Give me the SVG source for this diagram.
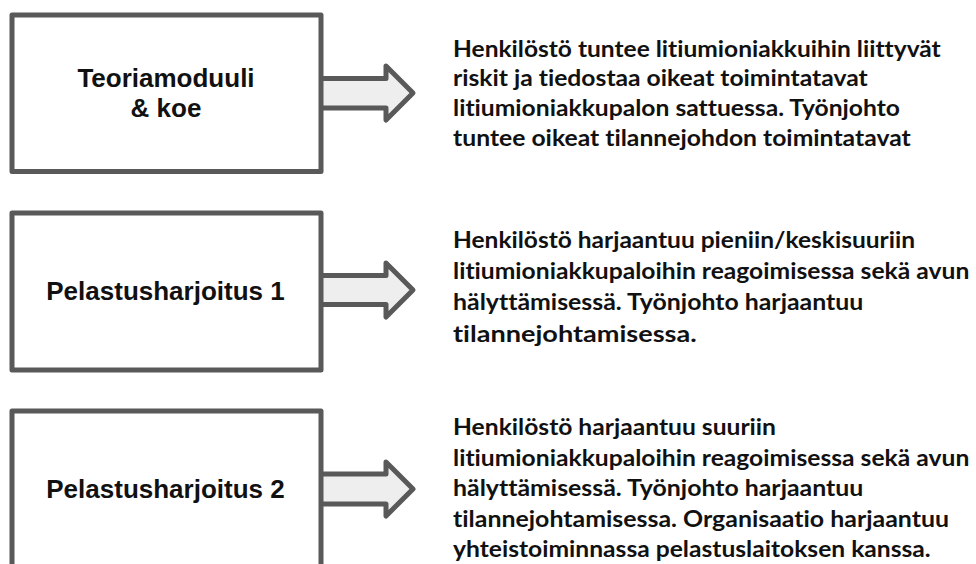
<svg xmlns="http://www.w3.org/2000/svg" width="976" height="564" viewBox="0 0 976 564">
<style>
.box{fill:#ffffff;stroke:#595959;stroke-width:5;stroke-linejoin:round}
.arr{fill:#eeeeee;stroke:#595959;stroke-width:5;stroke-linejoin:round}
.lbl{font-family:"Liberation Sans",Arial,sans-serif;font-weight:bold;font-size:26px;fill:#111;text-anchor:middle}
.desc{font-family:Lato,"Noto Sans",sans-serif;font-weight:bold;font-size:23px;fill:#111;font-variant-ligatures:none}
</style>
<rect width="976" height="564" fill="#ffffff"/>
<g id="connectors">
<path class="arr" d="M321 78.5 H386 V66 L413 93 L386 120 V108 H321"/>
<path class="arr" d="M321 275.5 H386 V263 L413 290 L386 317 V304.5 H321"/>
<path class="arr" d="M321 474 H386 V462 L413 489 L386 516 V504 H321"/>
</g>
<g id="node-teoria">
<rect class="box" x="12" y="15" width="309" height="156.5"/>
<text class="lbl" x="166" y="86.7">Teoriamoduuli</text>
<text class="lbl" x="166" y="117">&amp; koe</text>
</g>
<g id="node-harjoitus1">
<rect class="box" x="12" y="213" width="309" height="157"/>
<text class="lbl" x="165.5" y="300">Pelastusharjoitus 1</text>
</g>
<g id="node-harjoitus2">
<rect class="box" x="12" y="411" width="309" height="160"/>
<text class="lbl" x="165.5" y="498.3">Pelastusharjoitus 2</text>
</g>
<g id="desc-1">
<text class="desc" x="453" y="56.5" textLength="487.7" lengthAdjust="spacingAndGlyphs">Henkilöstö tuntee litiumioniakkuihin liittyvät</text>
<text class="desc" x="453" y="86.3" textLength="414.7" lengthAdjust="spacingAndGlyphs">riskit ja tiedostaa oikeat toimintatavat</text>
<text class="desc" x="453" y="116" textLength="447" lengthAdjust="spacingAndGlyphs">litiumioniakkupalon sattuessa. Työnjohto</text>
<text class="desc" x="453" y="145.5" textLength="457.7" lengthAdjust="spacingAndGlyphs">tuntee oikeat tilannejohdon toimintatavat</text>
</g>
<g id="desc-2">
<text class="desc" x="453" y="248" textLength="462" lengthAdjust="spacingAndGlyphs">Henkilöstö harjaantuu pieniin/keskisuuriin</text>
<text class="desc" x="453" y="279.3" textLength="516.3" lengthAdjust="spacingAndGlyphs">litiumioniakkupaloihin reagoimisessa sekä avun</text>
<text class="desc" x="453" y="310" textLength="410.3" lengthAdjust="spacingAndGlyphs">hälyttämisessä. Työnjohto harjaantuu</text>
<text class="desc" x="453" y="341.5" textLength="243.7" lengthAdjust="spacingAndGlyphs">tilannejohtamisessa.</text>
</g>
<g id="desc-3">
<text class="desc" x="453" y="435" textLength="323" lengthAdjust="spacingAndGlyphs">Henkilöstö harjaantuu suuriin</text>
<text class="desc" x="453" y="465.5" textLength="516.3" lengthAdjust="spacingAndGlyphs">litiumioniakkupaloihin reagoimisessa sekä avun</text>
<text class="desc" x="453" y="496" textLength="410.3" lengthAdjust="spacingAndGlyphs">hälyttämisessä. Työnjohto harjaantuu</text>
<text class="desc" x="453" y="527" textLength="496" lengthAdjust="spacingAndGlyphs">tilannejohtamisessa. Organisaatio harjaantuu</text>
<text class="desc" x="453" y="557" textLength="477.7" lengthAdjust="spacingAndGlyphs">yhteistoiminnassa pelastuslaitoksen kanssa.</text>
</g>
</svg>
